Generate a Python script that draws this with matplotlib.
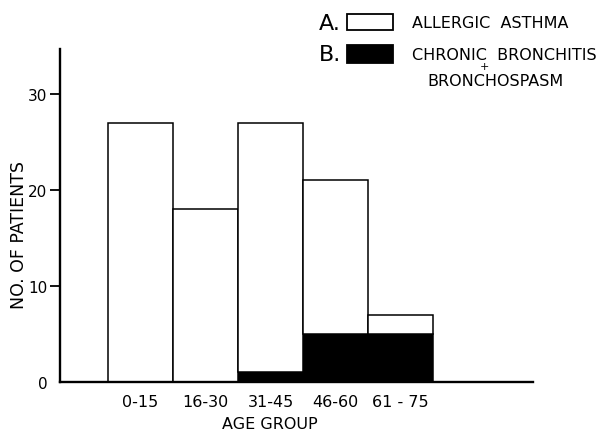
import numpy as np
import matplotlib
matplotlib.use('Agg')
import matplotlib.pyplot as plt
from matplotlib.patches import Rectangle

age_groups = ['0-15', '16-30', '31-45', '46-60', '61 - 75']
asthma = [27, 18, 26, 16, 2]       # white part (A)
bronchitis = [0, 0, 1, 5, 5]       # black part (B)
yticks = [0, 10, 20, 30]

W, H = 605, 439
fig = plt.figure(figsize=(W / 100, H / 100), dpi=100)
fig.patch.set_facecolor('white')

# axes box in pixels: x 60..533, y 50..383
ax = fig.add_axes([60 / W, 1 - 383 / H, (533 - 60) / W, (383 - 50) / H])
x = np.arange(1, len(age_groups) + 1)
ax.bar(x, bronchitis, width=1.0, color='black', edgecolor='black', linewidth=1.1)
ax.bar(x, asthma, width=1.0, bottom=bronchitis, color='white', edgecolor='black', linewidth=1.1)

ax.set_xlim(-0.24, 7.04)
ax.set_ylim(0, 34.7)
for s in ['top', 'right']:
    ax.spines[s].set_visible(False)
ax.spines['left'].set_linewidth(1.7)
ax.spines['bottom'].set_linewidth(1.7)

ax.set_yticks(yticks)
ax.set_yticklabels([str(t) for t in yticks], fontsize=11)
ax.tick_params(axis='y', direction='out', length=7, width=1.3, pad=2)
ax.yaxis.get_major_ticks()[0].tick1line.set_visible(False)

ax.set_xticks(x)
ax.set_xticklabels(age_groups, fontsize=11.5)
ax.tick_params(axis='x', length=0, pad=9)

ax.set_xlabel('AGE GROUP', fontsize=11.5)
ax.xaxis.set_label_coords((270 - 60) / (533 - 60), -(417 - 383) / (383 - 50))
ax.set_ylabel('NO. OF PATIENTS', fontsize=12.5)
ax.yaxis.set_label_coords(-(60 - 28) / (533 - 60), (383 - 235) / (383 - 50))

# legend in the top right corner
def fx(px):
    return px / W

def fy(py):
    return 1 - py / H

fig.text(fx(319), fy(24), 'A.', fontsize=16, va='center', ha='left')
fig.patches.append(Rectangle((fx(347), fy(31)), fx(393) - fx(347), fy(15) - fy(31),
                             transform=fig.transFigure, facecolor='white',
                             edgecolor='black', linewidth=1.3))
fig.text(fx(412), fy(23), 'ALLERGIC  ASTHMA', fontsize=11.5, va='center', ha='left')

fig.text(fx(319), fy(55), 'B.', fontsize=16, va='center', ha='left')
fig.patches.append(Rectangle((fx(347), fy(64)), fx(393) - fx(347), fy(46) - fy(64),
                             transform=fig.transFigure, facecolor='black',
                             edgecolor='black', linewidth=1.3))
fig.text(fx(412), fy(56), 'CHRONIC  BRONCHITIS', fontsize=11.5, va='center', ha='left')
fig.text(fx(484), fy(67), '+', fontsize=8, va='center', ha='center')
fig.text(fx(427), fy(81), 'BRONCHOSPASM', fontsize=11.5, va='center', ha='left')

fig.savefig('out.png', dpi=100)
